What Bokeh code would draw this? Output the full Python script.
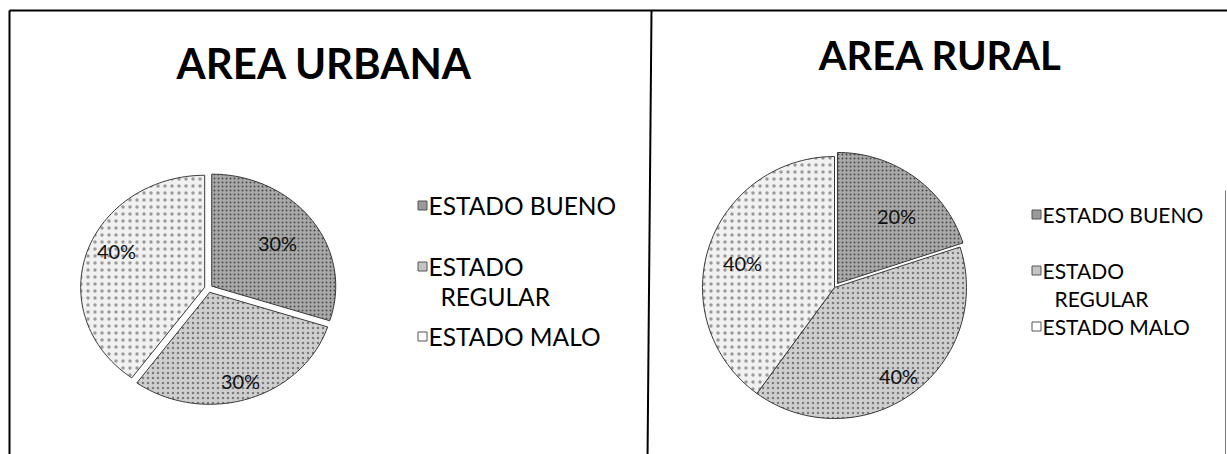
import math
from bokeh.plotting import figure
from bokeh.models import Range1d, ColumnDataSource
from bokeh.core.properties import value
from bokeh.embed import file_html
from bokeh.resources import INLINE

# ---------------- data ----------------
categories = ["ESTADO BUENO", "ESTADO REGULAR", "ESTADO MALO"]
legend_labels = ["ESTADO BUENO", "ESTADO\nREGULAR", "ESTADO MALO"]
titles = ["AREA URBANA", "AREA RURAL"]
urbana_pct = [30, 30, 40]
rural_pct = [20, 40, 40]

# ---------------- styles ----------------
FONT = "Lato"
fills = ["#a9a9a9", "#cfcfcf", "#f1f1f1"]
hatch_colors = ["#4a4a4a", "#7a7a7a", "#9a9a9a"]
hatch_scales = [4, 5, 7]
marker_fills = ["#9a9a9a", "#c4c4c4", "#ffffff"]

W, H = 1227, 454
p = figure(width=W, height=H, output_backend="svg", toolbar_location=None,
           x_range=Range1d(0, W), y_range=Range1d(0, H),
           x_axis_type=None, y_axis_type=None, min_border=0)
p.grid.visible = False
p.outline_line_color = None
p.background_fill_color = "white"
p.border_fill_color = "white"


def Y(y):  # page pixel row -> data y
    return H - y


# frame of the scanned table
p.segment(x0=[9, 9, 651], y0=[Y(10), Y(10), Y(10)],
          x1=[1227, 9, 647], y1=[Y(10), Y(460), Y(460)],
          line_color="black", line_width=2)
p.segment(x0=[1225], y0=[Y(190)], x1=[1225], y1=[Y(460)],
          line_color="#777777", line_width=1)


def draw_panel(vals, title, title_xy, title_size, center, rx, ry, explode,
               label_pos, label_size, mark_x, text_x, leg_rows, leg_size):
    total = float(sum(vals))
    cum = 0.0
    pxs, pys, lt = [], [], []
    for i, v in enumerate(vals):
        f0 = cum / total
        f1 = (cum + v) / total
        cum += v
        mid = math.pi / 2 - 2 * math.pi * (f0 + f1) / 2
        e = explode[i]
        cx = center[0] + e * math.cos(mid)
        cy = Y(center[1]) + e * math.sin(mid)
        n = max(8, int(200 * (f1 - f0)))
        xs, ys = [cx], [cy]
        for k in range(n + 1):
            t = math.pi / 2 - 2 * math.pi * (f0 + (f1 - f0) * k / n)
            xs.append(cx + rx * math.cos(t))
            ys.append(cy + ry * math.sin(t))
        pxs.append(xs)
        pys.append(ys)
        lt.append("%d%%" % round(100 * v / total))
    src = ColumnDataSource(dict(xs=pxs, ys=pys, fill=fills, hc=hatch_colors,
                                hs=hatch_scales, cat=categories))
    p.patches(xs="xs", ys="ys", fill_color="fill", line_color="#3a3a3a",
              line_width=1, hatch_pattern="dot", hatch_color="hc",
              hatch_scale="hs", hatch_weight=1.2, source=src)
    # percentage labels (slice order)
    p.text(x=[q[0] for q in label_pos], y=[Y(q[1]) for q in label_pos], text=lt,
           text_font=value(FONT), text_font_size="%dpx" % label_size,
           text_color="#111111", text_align="center", text_baseline="middle")
    # title
    p.text(x=[title_xy[0]], y=[Y(title_xy[1])], text=[title],
           text_font=value(FONT), text_font_style="bold",
           text_font_size="%dpx" % title_size, text_color="black",
           text_align="center", text_baseline="middle")
    # legend
    mark_rows = [leg_rows[0], leg_rows[1], leg_rows[3]]
    p.scatter(x=[mark_x] * 3, y=[Y(r) for r in mark_rows], marker="square",
              size=9, fill_color=marker_fills, line_color="#555555",
              line_width=1)
    tx, ty, tt = [], [], []
    row = 0
    for lab in legend_labels:
        for j, line in enumerate(lab.split("\n")):
            tx.append(text_x + (12 if j > 0 else 0))
            ty.append(Y(leg_rows[row]))
            tt.append(line)
            row += 1
    p.text(x=tx, y=ty, text=tt, text_font=value(FONT),
           text_font_size="%gpx" % leg_size, text_color="black",
           text_align="left", text_baseline="middle")


# left: urbana
draw_panel(urbana_pct, titles[0], (324, 62), 42, (208, 288), 124, 112,
           [4, 4, 4], [(277, 242), (240, 380), (116, 250)], 20,
           422, 428, [205, 266, 296, 336], 24.5)

# right: rural
draw_panel(rural_pct, titles[1], (940, 54), 40, (834, 287), 132, 131,
           [5, 0, 0], [(896, 215), (898, 375), (742, 262)], 20,
           1036, 1042, [214, 270, 298, 326], 21)

open("out.html", "w").write(file_html(p, INLINE))
